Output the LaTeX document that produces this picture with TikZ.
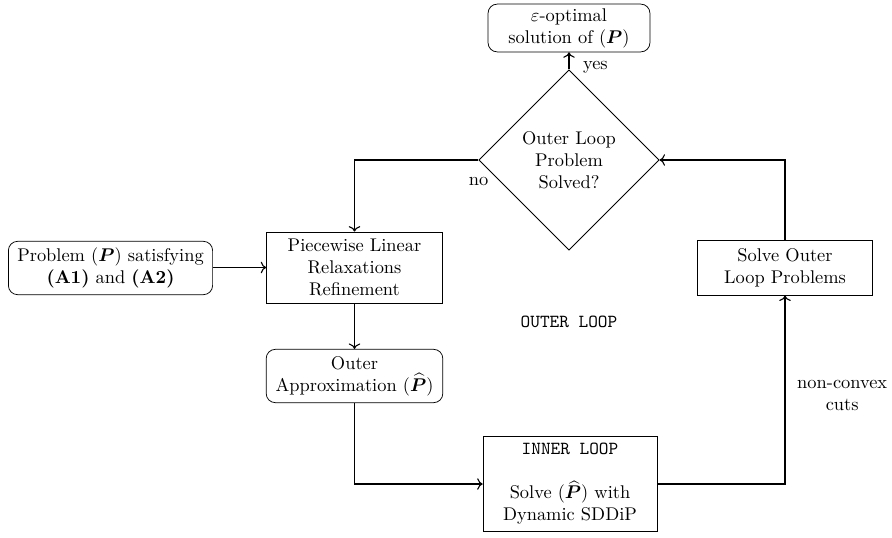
\documentclass[tikz,border=0pt]{standalone}
\usepackage{amsmath,bm}
\usetikzlibrary{shapes.geometric,arrows.meta}
\begin{document}
\begin{tikzpicture}[x=0.5435pt,y=-0.5435pt,
  stepbox/.style={draw, align=center, inner sep=2pt},
  roundbox/.style={stepbox, rounded corners=5pt},
  decision/.style={draw, diamond, aspect=1, align=center, inner sep=0pt,
                   minimum width=98pt, minimum height=98pt},
  flow/.style={semithick, -{To[length=3pt]}}]
\useasboundingbox (0,0) rectangle (892,537);

\node[roundbox, minimum width=88pt, minimum height=26pt] (opt) at (569,28)
  {$\varepsilon$-optimal\\solution of $(\bm{P})$};
\node[decision] (dec) at (569,160) {Outer Loop\\Problem\\Solved?};
\node[roundbox, minimum width=111pt, minimum height=29pt] (prob) at (110.5,268)
  {Problem $(\bm{P})$ satisfying\\\textbf{(A1)} and \textbf{(A2)}};
\node[stepbox, minimum width=95.5pt, minimum height=38.6pt] (plr) at (354.5,267.5)
  {Piecewise Linear\\Relaxations\\Refinement};
\node[roundbox, minimum width=96pt, minimum height=29pt] (oa) at (354.5,376)
  {Outer\\Approximation $(\widehat{\bm{P}})$};
\node[stepbox, minimum width=94.5pt, minimum height=52pt] (inner) at (570,484)
  {\texttt{INNER LOOP}\\[12pt]Solve $(\widehat{\bm{P}})$ with\\Dynamic SDDiP};
\node[stepbox, minimum width=95pt, minimum height=29.5pt] (sol) at (785,268)
  {Solve Outer\\Loop Problems};
\node (outer) at (569,322) {\texttt{OUTER LOOP}};

\coordinate (noturn) at (354.5,160);
\coordinate (downturn) at (354.5,484);
\coordinate (rightturn) at (785,484);
\coordinate (upturn) at (785,160);

\draw[flow] (dec.north) -- node[right, xshift=4pt, yshift=-2pt, pos=0.35] {yes} (opt.south);
\draw[flow] (dec.west) -- node[below, pos=0.0, xshift=0pt, yshift=-6pt] {no} (noturn) -- (plr.north);
\draw[flow] (prob.east |- plr.west) -- (plr.west);
\draw[flow] (plr.south) -- (oa.north);
\draw[flow] (oa.south) -- (downturn) -- (inner.west);
\draw[flow] (inner.east) -- (rightturn) -- node[right, align=center, pos=0.47, xshift=3pt] {non-convex\\cuts} (sol.south);
\draw[flow] (sol.north) -- (upturn) -- (dec.east);
\end{tikzpicture}
\end{document}
